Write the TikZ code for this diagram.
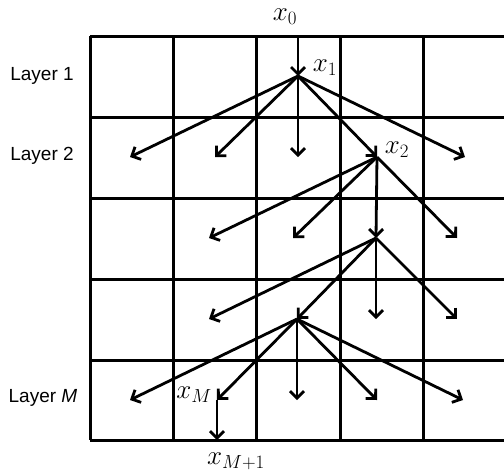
\RequirePackage{fix-cm}
\documentclass[tikz,border=0pt]{standalone}
\usepackage{fontspec}
\setmainfont{Liberation Sans}
\usetikzlibrary{arrows.meta}
\begin{document}
\begin{tikzpicture}[x=1pt,y=-1pt,
  gridline/.style={line width=3pt},
  edge/.style={line width=2.8pt,-{Straight Barb[length=7pt,width=14pt,line width=2.8pt]}},
  layerlbl/.style={font=\fontsize{19}{22}\selectfont,inner sep=0pt},
  mathlbl/.style={font=\fontsize{27}{31}\selectfont,inner sep=0pt}]
\useasboundingbox (0,0) rectangle (504,474);
\clip (0,0) rectangle (504,474);
% grid
\foreach \y in {36,117,198,279,360,440}
  \draw[gridline] (90,\y) -- (510,\y);
\foreach \x in {90,173.3,256.7,340,423.3,506.7}
  \draw[gridline] (\x,36) -- (\x,440);
% layer labels
\node[layerlbl] (l1) at (42,76) {Layer 1};
\node[layerlbl] (l2) at (42,156) {Layer 2};
\node[layerlbl] (lm) at (43,398) {Layer \textit{M}};
% points
\coordinate (p0) at (298,36);
\coordinate (p1) at (298,76);
\coordinate (a21) at (130,157);
\coordinate (a22) at (215,157);
\coordinate (a23) at (298,157);
\coordinate (p2) at (377,157);
\coordinate (a25) at (465,157);
\coordinate (a31) at (209,238);
\coordinate (a32) at (293,238);
\coordinate (p3) at (376,238);
\coordinate (a34) at (457,238);
\coordinate (a41) at (209,319);
\coordinate (p4) at (297,319);
\coordinate (a43) at (376,319);
\coordinate (a44) at (457,319);
\coordinate (a51) at (130,400);
\coordinate (pM) at (217,400);
\coordinate (a53) at (297,400);
\coordinate (a54) at (377,400);
\coordinate (a55) at (463,400);
\coordinate (pM1) at (217,440);
% labels
\node[mathlbl] (t0) at (285,17) {$x_0$};
\node[mathlbl] (t1) at (325,68) {$x_1$};
\node[mathlbl] (t2) at (397,150) {$x_2$};
\node[mathlbl] (tM) at (194,395) {$x_M$};
\node[mathlbl] (tM1) at (236,461) {$x_{M+1}$};
% arrows
\draw[edge] (p0) -- (p1);
\foreach \t in {a21,a22,a23,p2,a25} \draw[edge] (p1) -- (\t);
\foreach \t in {a31,a32,p3,a34} \draw[edge] (p2) -- (\t);
\foreach \t in {a41,p4,a43,a44} \draw[edge] (p3) -- (\t);
\foreach \t in {a51,pM,a53,a54,a55} \draw[edge] (p4) -- (\t);
\draw[edge] (pM) -- (pM1);
\end{tikzpicture}
\end{document}
